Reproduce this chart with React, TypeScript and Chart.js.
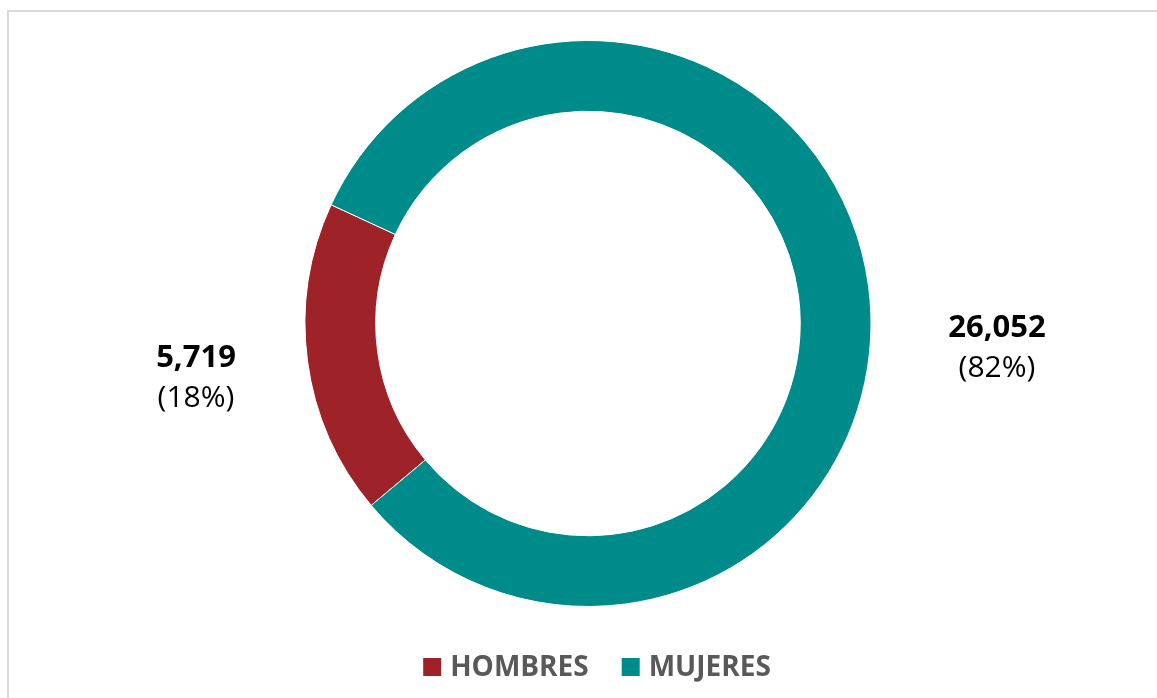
import React, { useEffect, useRef } from "react";
import { Chart, registerables } from "chart.js";

Chart.register(...registerables);

const categories = ["HOMBRES", "MUJERES"];
const values = [5719, 26052];
const sliceColors = ["#9E2329", "#008B8B"];

const FONT = "'Open Sans', 'Noto Sans', sans-serif";

const labelPlugin = {
  id: "sliceLabels",
  afterDatasetsDraw(chart: any, _args: any, opts: any) {
    const ctx = chart.ctx;
    const meta = chart.getDatasetMeta(0);
    const data = chart.data.datasets[0].data as number[];
    const total = data.reduce((a: number, b: number) => a + b, 0);
    ctx.save();
    ctx.textAlign = "center";
    ctx.textBaseline = "alphabetic";
    meta.data.forEach((arc: any, i: number) => {
      const off = opts.offsets[i];
      const x = arc.x + off[0];
      const y = arc.y + off[1];
      ctx.fillStyle = "#000000";
      ctx.font = `bold 31px ${FONT}`;
      ctx.fillText(data[i].toLocaleString("en-US"), x, y);
      ctx.font = `30px ${FONT}`;
      ctx.fillText(`(${Math.round((data[i] / total) * 100)}%)`, x, y + 40);
    });
    ctx.restore();
  },
};

const legendPlugin = {
  id: "customLegend",
  afterDraw(chart: any, _args: any, opts: any) {
    const ctx = chart.ctx;
    const labels = chart.data.labels as string[];
    const colors = chart.data.datasets[0].backgroundColor as string[];
    ctx.save();
    ctx.font = `bold 28px ${FONT}`;
    const box = 18;
    const gap = 9;
    const between = 33;
    const widths = labels.map((l) => ctx.measureText(l).width);
    const total =
      widths.reduce((a, b) => a + b, 0) + labels.length * (box + gap) + between * (labels.length - 1);
    let x = opts.centerX - total / 2;
    const y = opts.centerY;
    ctx.textBaseline = "alphabetic";
    ctx.textAlign = "left";
    labels.forEach((l, i) => {
      ctx.fillStyle = colors[i];
      ctx.fillRect(x, y - 18, box, box);
      x += box + gap;
      ctx.fillStyle = "#595959";
      ctx.fillText(l, x, y);
      x += widths[i] + between;
    });
    ctx.restore();
  },
};

export default function App() {
  const ref = useRef<HTMLCanvasElement | null>(null);

  useEffect(() => {
    if (!ref.current) return;
    const chart = new Chart(ref.current, {
      type: "doughnut",
      data: {
        labels: categories,
        datasets: [
          {
            data: values,
            backgroundColor: sliceColors,
            borderColor: "#ffffff",
            borderWidth: 1,
            hoverOffset: 0,
            hoverBorderWidth: 1,
          },
        ],
      },
      options: {
        responsive: false,
        animation: false,
        rotation: 230,
        cutout: "75%",
        layout: { padding: { top: 40, bottom: 91, left: 19, right: 0 } },
        plugins: {
          legend: { display: false },
          tooltip: { enabled: false },
          sliceLabels: { offsets: [[-392, 43], [409, 13]] },
          customLegend: { centerX: 597, centerY: 676 },
        } as any,
      },
      plugins: [labelPlugin, legendPlugin],
    });
    return () => chart.destroy();
  }, []);

  return (
    <div style={{ position: "fixed", inset: 0, overflow: "hidden", background: "#ffffff" }}>
      <div
        style={{
          position: "absolute",
          left: 7,
          top: 10,
          width: 1300,
          height: 900,
          border: "2px solid #d9d9d9",
        }}
      />
      <canvas
        ref={ref}
        width={1157}
        height={698}
        style={{ position: "absolute", left: 0, top: 0, width: 1157, height: 698 }}
      />
    </div>
  );
}
